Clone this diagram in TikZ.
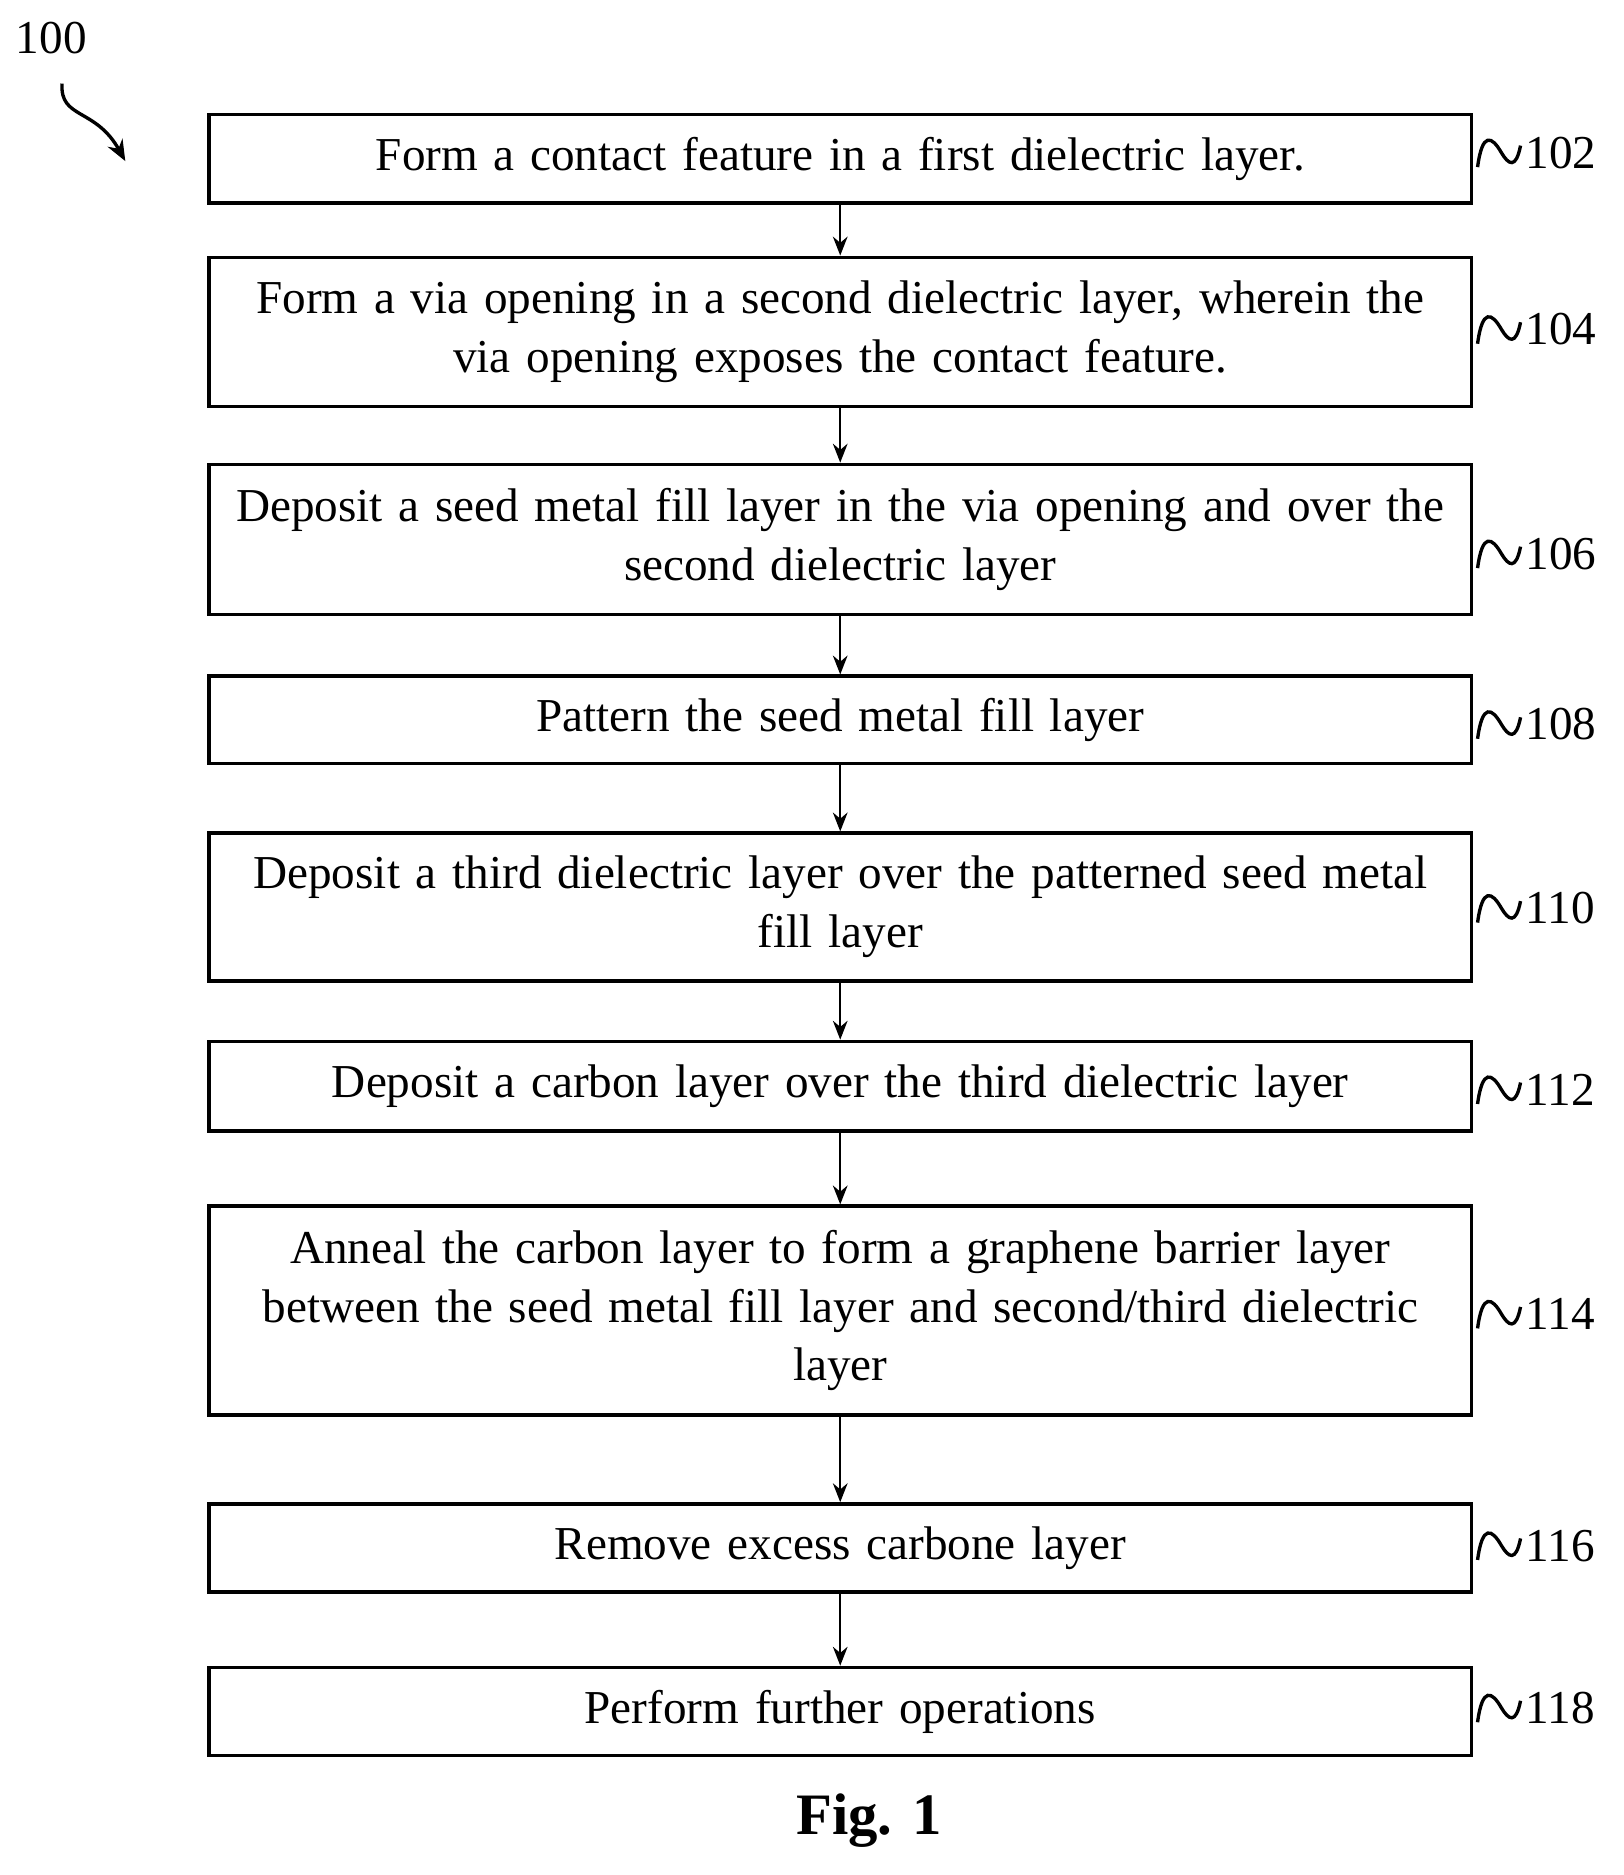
\documentclass[tikz,border=0pt]{standalone}
\usepackage{fontspec}
\setmainfont{Liberation Serif}
\usetikzlibrary{arrows.meta,positioning}
\tikzset{
  procbox/.style={draw, line width=1.6pt, minimum width=21.16cm, text width=20.6cm,
    align=center, font=\fontsize{22.5}{28}\selectfont, inner sep=0pt},
  flow/.style={draw, line width=1.1pt, -{Stealth[length=9pt,width=7pt]}},
  squig/.style={line width=1.6pt},
  reflabel/.style={font=\fontsize{22.5}{26}\selectfont, anchor=west, inner sep=0pt}
}
\newcommand{\refmark}[2]{%
  \draw[squig] (1238,#1+12) .. controls (1242,#1-18) and (1250,#1-14) .. (1258,#1)
    .. controls (1264,#1+10) and (1270,#1+14) .. (1274,#1-6);
  \node[reflabel] at (1278,#1) {#2};}
\begin{document}
\begin{tikzpicture}[x=0.02cm,y=-0.02cm]
  \useasboundingbox (0,0) rectangle (1360,1571);
  % steps
  \node[procbox, minimum height=1.48cm] (s102) at (704,133) {Form a contact feature in a first dielectric layer.};
  \node[procbox, minimum height=2.5cm] (s104) at (704,278) {Form a via opening in a second dielectric layer, wherein the\\ via opening exposes the contact feature.};
  \node[procbox, minimum height=2.52cm] (s106) at (704,452) {Deposit a seed metal fill layer in the via opening and over the\\ second dielectric layer};
  \node[procbox, minimum height=1.46cm] (s108) at (704,603) {Pattern the seed metal fill layer};
  \node[procbox, minimum height=2.48cm] (s110) at (704,760) {Deposit a third dielectric layer over the patterned seed metal\\ fill layer};
  \node[procbox, minimum height=1.5cm] (s112) at (704,910) {Deposit a carbon layer over the third dielectric layer};
  \node[procbox, minimum height=3.5cm] (s114) at (704,1098) {Anneal the carbon layer to form a graphene barrier layer\\ between the seed metal fill layer and second/third dielectric\\ layer};
  \node[procbox, minimum height=1.48cm] (s116) at (704,1297) {Remove excess carbone layer};
  \node[procbox, minimum height=1.48cm] (s118) at (704,1434) {Perform further operations};
  % connectors
  \foreach \a/\b in {s102/s104,s104/s106,s106/s108,s108/s110,s110/s112,s112/s114,s114/s116,s116/s118}
    \draw[flow] (\a.south) -- (\b.north);
  % reference numerals
  \refmark{128}{102}
  \refmark{276}{104}
  \refmark{464}{106}
  \refmark{607}{108}
  \refmark{761}{110}
  \refmark{913}{112}
  \refmark{1101}{114}
  \refmark{1295}{116}
  \refmark{1431}{118}
  \node[font=\fontsize{22.5}{26}\selectfont] (fig) at (43,32) {100};
  \coordinate (tip) at (105,135);
  \draw[line width=1.6pt, -{Stealth[length=10pt,width=8pt]}] (52,70) .. controls (50,100) and (80,90) .. (tip);
  \node[font=\bfseries\fontsize{28}{32}\selectfont] (cap) at (728,1525) {Fig. 1};
\end{tikzpicture}
\end{document}
